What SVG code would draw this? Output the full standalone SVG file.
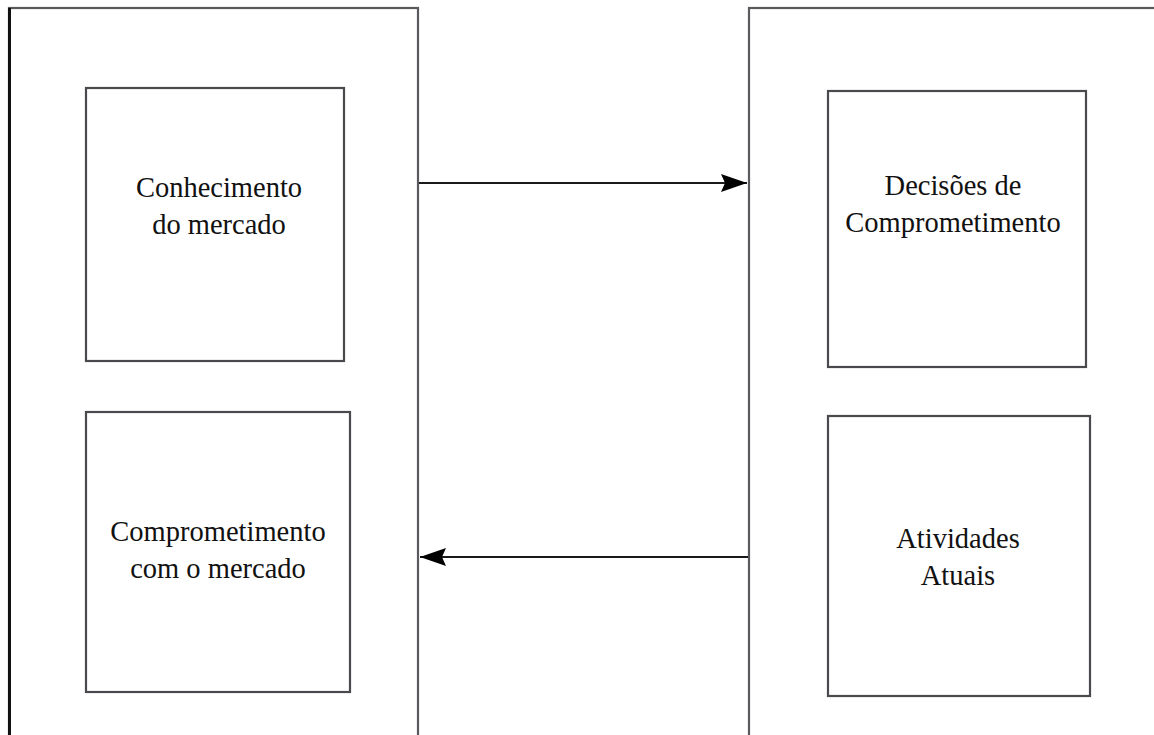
<svg xmlns="http://www.w3.org/2000/svg" width="1154" height="735" viewBox="0 0 1154 735">
  <style>
    .outer { fill: #ffffff; stroke: #5a5a5e; stroke-width: 2.2; }
    .inner { fill: #ffffff; stroke: #4a4a4e; stroke-width: 2.2; }
    .lbl { font-family: "Liberation Serif", "Times New Roman", serif; font-size: 28.5px; fill: #111111; text-anchor: middle; }
    .conn { stroke: #1a1a1a; stroke-width: 2; fill: none; }
  </style>
  <defs>
    <marker id="arrow" viewBox="0 0 26 20" refX="26" refY="10" markerWidth="26" markerHeight="20" markerUnits="userSpaceOnUse" orient="auto">
      <path d="M0,1 L26,10 L0,19 L4,10 Z" fill="#000000"/>
    </marker>
  </defs>
  <rect width="1154" height="735" fill="#ffffff"/>

  <g id="left-panel">
    <rect class="outer" x="9" y="8" width="409" height="740"/>
    <line x1="9.5" y1="8" x2="9.5" y2="735" stroke="#111111" stroke-width="3"/>
  </g>
  <g id="right-panel">
    <rect class="outer" x="749" y="8" width="420" height="740"/>
  </g>

  <g id="node-conhecimento">
    <rect class="inner" x="86" y="88" width="258" height="273"/>
    <text class="lbl" x="219" y="197">Conhecimento</text>
    <text class="lbl" x="219" y="234">do mercado</text>
  </g>
  <g id="node-comprometimento-mercado">
    <rect class="inner" x="86" y="412" width="264" height="280"/>
    <text class="lbl" x="218" y="541">Comprometimento</text>
    <text class="lbl" x="218" y="578">com o mercado</text>
  </g>
  <g id="node-decisoes">
    <rect class="inner" x="828" y="91" width="258" height="276"/>
    <text class="lbl" x="953" y="195">Decisões de</text>
    <text class="lbl" x="953" y="232">Comprometimento</text>
  </g>
  <g id="node-atividades">
    <rect class="inner" x="828" y="416" width="262" height="280"/>
    <text class="lbl" x="958" y="548">Atividades</text>
    <text class="lbl" x="958" y="585">Atuais</text>
  </g>

  <g id="connectors">
    <line class="conn" x1="419" y1="183" x2="747" y2="183" marker-end="url(#arrow)"/>
    <line class="conn" x1="748" y1="557" x2="420" y2="557" marker-end="url(#arrow)"/>
  </g>
</svg>
